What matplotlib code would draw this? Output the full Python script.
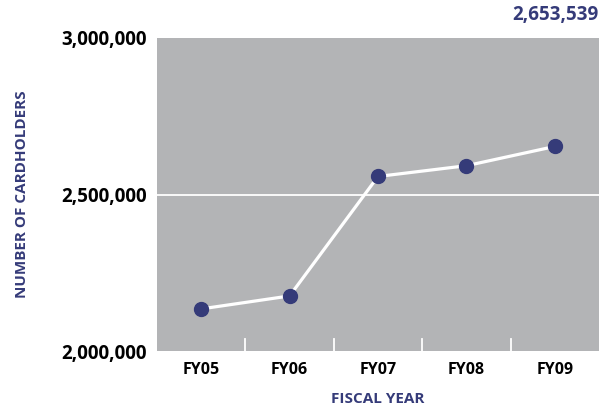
import matplotlib
matplotlib.use("Agg")
import matplotlib.pyplot as plt

# data
years = ["FY05", "FY06", "FY07", "FY08", "FY09"]
cardholders = [2134600, 2176000, 2557700, 2592000, 2653539]
y_ticks = [2000000, 2500000, 3000000]
y_tick_labels = ["2,000,000", "2,500,000", "3,000,000"]

navy = "#353b79"
gray = "#b3b4b6"

plt.rcParams["font.family"] = ["Open Sans", "DejaVu Sans"]

fig = plt.figure(figsize=(6.09, 4.13), dpi=100)
ax = fig.add_axes([0.2578, 0.150, 0.7258, 0.758])
ax.set_facecolor(gray)

x = list(range(len(years)))
ax.axhline(2500000, color="white", lw=1.3, zorder=1)
ax.plot(x, cardholders, color="white", lw=2.3, zorder=2)
ax.plot(x, cardholders, "o", ms=10, color=navy, zorder=3)

# short white separators between categories along the bottom
for b in range(1, len(years)):
    ax.plot([b - 0.5, b - 0.5], [2000000, 2038000], color="white", lw=1.3, zorder=1)

ax.set_xlim(-0.5, len(years) - 0.5)
ax.set_ylim(2000000, 3000000)
ax.set_xticks(x)
ax.set_xticklabels(years, fontsize=11.5, fontweight="bold")
ax.set_yticks(y_ticks)
ax.set_yticklabels(y_tick_labels, fontsize=13.5, fontweight="bold")
ax.tick_params(length=0, pad=7)
ax.tick_params(axis="x", pad=8)
for s in ax.spines.values():
    s.set_visible(False)

ax.set_xlabel("FISCAL YEAR", color=navy, fontsize=11, fontweight="bold", labelpad=10)
ax.set_ylabel("NUMBER OF CARDHOLDERS", color=navy, fontsize=11, fontweight="bold")
ax.yaxis.set_label_coords(-0.29, 0.5)

fig.text(0.982, 0.963, "{:,}".format(cardholders[-1]), ha="right", va="center",
         color=navy, fontsize=13.5, fontweight="bold")

fig.savefig("out.png", dpi=100)
